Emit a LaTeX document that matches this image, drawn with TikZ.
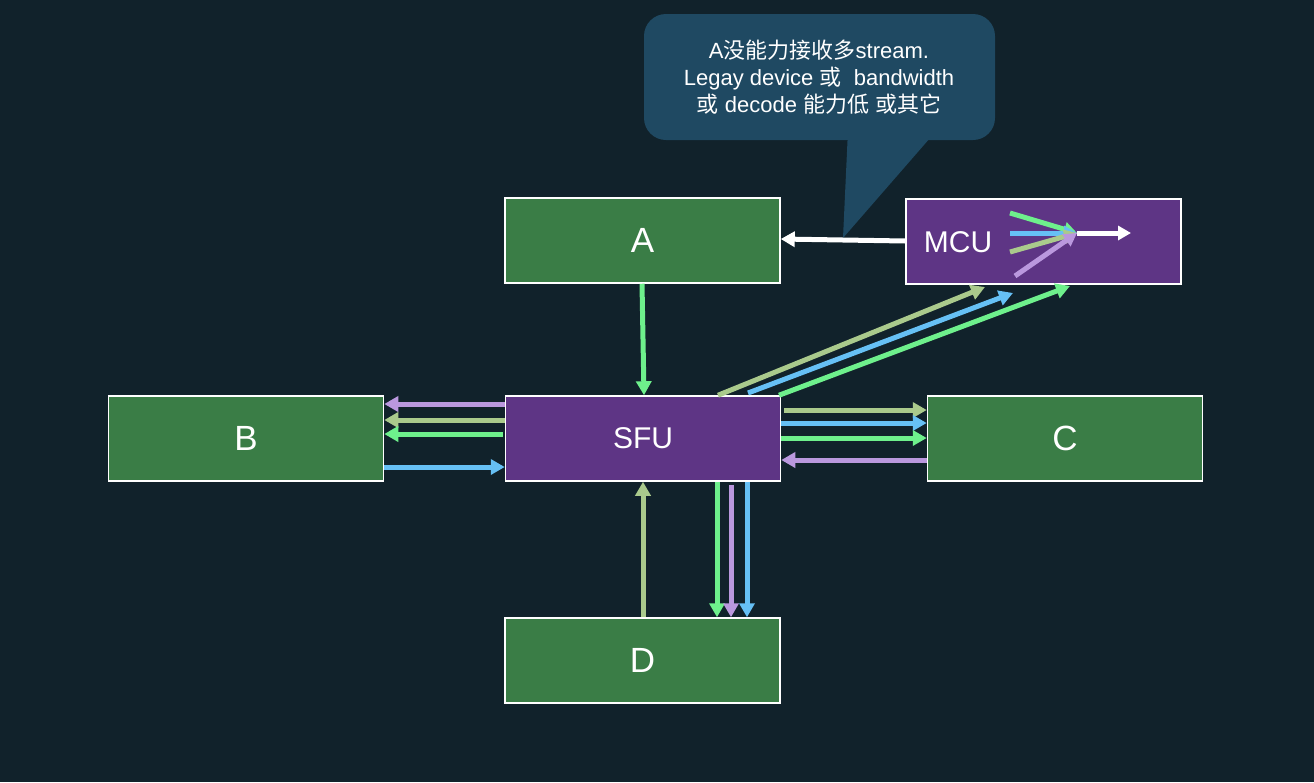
\documentclass[tikz,border=0pt]{standalone}
\usepackage{fontspec}
\setmainfont{Liberation Sans}
\newfontfamily\cjk{Noto Sans CJK SC}
\usetikzlibrary{arrows.meta}
\definecolor{bg}{RGB}{17,34,43}
\definecolor{shade}{RGB}{12,26,33}
\definecolor{boxgreen}{RGB}{58,125,70}
\definecolor{boxpurple}{RGB}{94,53,133}
\definecolor{callout}{RGB}{31,73,98}
\definecolor{agreen}{RGB}{110,240,140}
\definecolor{asage}{RGB}{170,202,140}
\definecolor{ablue}{RGB}{102,192,245}
\definecolor{apurple}{RGB}{186,152,222}
\tikzset{
  ent/.style={draw=white, line width=1.5pt, fill=boxgreen, minimum width=275pt, minimum height=85pt, inner sep=0pt, text=white, font=\fontsize{35}{40}\selectfont},
  srv/.style={ent, fill=boxpurple},
  arr/.style={line width=5pt, -{Triangle[length=14pt,width=15pt]}},
  thin arr/.style={line width=5pt, -{Triangle[length=13pt,width=14pt]}},
}
\begin{document}
\begin{tikzpicture}[x=1pt,y=-1pt]
\useasboundingbox[fill=bg] (0,0) rectangle (1314,782);
% callout
\fill[callout, rounded corners=22pt] (644,14) rectangle (995,140);
\coordinate (tip) at (843,238);
\fill[callout] (848,130) -- (tip) -- (937,130) -- cycle;
\node[text=white, align=center, font=\fontsize{22}{27}\selectfont] (note) at (819,77)
  {A{\cjk 没能力接收多}stream.\\Legay device {\cjk 或}\ \ bandwidth\\{\cjk 或} decode {\cjk 能力低} {\cjk 或其它}};
% boxes
\node[ent] (a) at (642.5,240.5) {A};
\node[srv] (mcu) at (1043.5,241.5) {};
\node[text=white, font=\fontsize{30}{36}\selectfont] (mcul) at (958,242) {MCU};
\node[ent] (b) at (246,438.5) {B};
\node[srv, font=\fontsize{30}{36}\selectfont] (sfu) at (643,438.5) {SFU};
\node[ent] (c) at (1065,438.5) {C};
\node[ent] (d) at (642.5,660.5) {D};
% MCU -> A
\draw[arr, white] (mcu.west |- 0,241) -- (a.east |- 0,239);
% A -> SFU
\draw[arr, agreen] (642,0 |- a.south) -- (644,0 |- sfu.north);
% SFU <-> B
\draw[arr, apurple] (sfu.west |- 0,404) -- (b.east |- 0,404);
\draw[arr, asage] (sfu.west |- 0,420) -- (b.east |- 0,420);
\draw[arr, agreen] ([xshift=-2pt]sfu.west |- 0,434) -- (b.east |- 0,434);
\draw[arr, ablue] (b.east |- 0,467) -- (sfu.west |- 0,467);
% SFU <-> C
\draw[arr, asage] ([xshift=3pt]sfu.east |- 0,410) -- (c.west |- 0,410);
\draw[arr, ablue] (sfu.east |- 0,423) -- (c.west |- 0,423);
\draw[arr, agreen] (sfu.east |- 0,438) -- (c.west |- 0,438);
\draw[arr, apurple] (c.west |- 0,460) -- (sfu.east |- 0,460);
% D <-> SFU
\draw[arr, asage] (643,0 |- d.north) -- (643,0 |- sfu.south);
\draw[arr, agreen] (717,0 |- sfu.south) -- (717,0 |- d.north);
\draw[arr, apurple] ([yshift=-3pt]731,0 |- sfu.south) -- (731,0 |- d.north);
\draw[arr, ablue] (747,0 |- sfu.south) -- (747,0 |- d.north);
% SFU -> MCU
\draw[arr, asage] (718,0 |- sfu.north) -- (985,287);
\draw[arr, ablue] (748,393) -- (1013,293);
\draw[arr, agreen] (779,0 |- sfu.north) -- (1070,286);
% inside MCU
\coordinate (hub) at (1077,233);
\draw[thin arr, agreen] (1010,213) -- (hub);
\draw[thin arr, ablue] (1010,233) -- (hub);
\draw[thin arr, asage] (1010,252) -- (hub);
\draw[thin arr, apurple] (1015,276) -- (hub);
\draw[thin arr, white] (hub) -- (1131,233);
\end{tikzpicture}
\end{document}
